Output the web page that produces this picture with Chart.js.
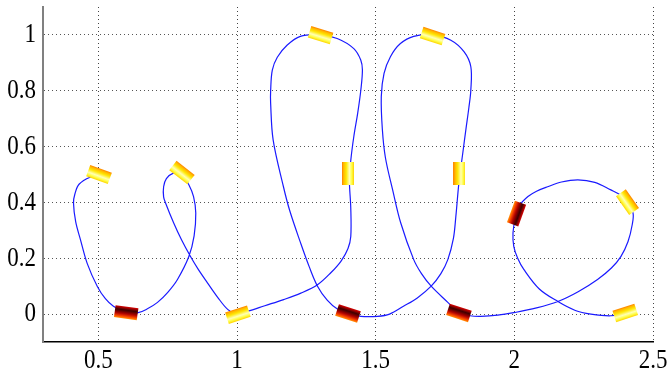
<!DOCTYPE html>
<html>
<head>
<meta charset="utf-8">
<script src="https://cdn.jsdelivr.net/npm/chart.js@4.4.1/dist/chart.umd.min.js"></script>
<style>
    body { margin: 0; background: #ffffff; }
</style>
</head>
<body>
<canvas id="myChart" width="671" height="377"></canvas>
<script>
// path of the trajectory
const pathX = [0.51, 0.47, 0.43, 0.415, 0.41, 0.418, 0.435, 0.46, 0.496, 0.525, 0.554, 0.60, 0.64, 0.675, 0.713, 0.75, 0.785, 0.826, 0.845, 0.851, 0.843, 0.826,
    0.80, 0.77, 0.745, 0.735, 0.735, 0.742, 0.771, 0.80, 0.832, 0.86, 0.893, 0.93, 0.966, 1.0, 1.038, 1.10, 1.168, 1.23, 1.29, 1.338, 1.375, 1.40, 1.41, 1.41,
    1.405, 1.41, 1.421, 1.435, 1.446, 1.452, 1.446, 1.421, 1.361, 1.30, 1.228, 1.18, 1.145, 1.127, 1.121, 1.121, 1.13, 1.167, 1.19,
    1.229, 1.26, 1.29, 1.325, 1.363, 1.40, 1.446, 1.507, 1.55, 1.60, 1.65, 1.70, 1.735, 1.76, 1.78, 1.789, 1.80, 1.814, 1.825, 1.836, 1.843, 1.843, 1.819,
    1.771, 1.705, 1.637, 1.589, 1.553, 1.53, 1.52, 1.524, 1.535, 1.561, 1.59, 1.637, 1.665, 1.70, 1.76, 1.80, 1.84, 1.879, 1.94, 1.998, 2.08,
    2.157, 2.23, 2.30, 2.35, 2.384, 2.41, 2.425, 2.428, 2.408, 2.38, 2.348, 2.29, 2.229, 2.17, 2.12, 2.08, 2.049, 2.02, 2.003, 1.995, 1.998, 2.012, 2.034,
    2.09, 2.157, 2.22, 2.276, 2.348, 2.40];
const pathY = [0.497, 0.49, 0.465, 0.43, 0.398, 0.33, 0.267, 0.18, 0.099, 0.055, 0.028, 0.006, 0.004, 0.018, 0.042, 0.078, 0.124, 0.206, 0.28, 0.362, 0.421, 0.463,
    0.505, 0.505, 0.485, 0.456, 0.42, 0.398, 0.327, 0.265, 0.206, 0.16, 0.112, 0.06, 0.017, 0.0, 0.01, 0.03, 0.052, 0.075, 0.105, 0.148, 0.19, 0.235, 0.278, 0.38,
    0.48, 0.55, 0.636, 0.72, 0.80, 0.874, 0.91, 0.951, 0.987, 1.0, 0.995, 0.963, 0.92, 0.874, 0.80, 0.755, 0.624, 0.457, 0.37,
    0.255, 0.17, 0.1, 0.05, 0.017, 0.003, -0.008, -0.008, 0.0, 0.028, 0.058, 0.1, 0.145, 0.195, 0.27, 0.35, 0.47, 0.577, 0.66, 0.74, 0.803, 0.886, 0.939,
    0.981, 0.999, 0.995, 0.969, 0.922, 0.862, 0.779, 0.66, 0.56, 0.445, 0.327, 0.195, 0.145, 0.1, 0.042, 0.004, -0.006, -0.008, -0.004, 0.005, 0.022,
    0.045, 0.08, 0.124, 0.165, 0.206, 0.26, 0.32, 0.362, 0.401, 0.428, 0.445, 0.472, 0.481, 0.473, 0.456, 0.44, 0.421, 0.39, 0.34, 0.29, 0.242, 0.2, 0.16,
    0.09, 0.045, 0.013, 0.0, -0.006, 0.004];

// cylinders along the path: position, heading (deg) and kind
const markerX = [0.502, 0.801, 0.60, 1.003, 1.40, 1.301, 1.40, 1.705, 1.802, 1.80, 2.008, 2.408, 2.40];
const markerY = [0.50, 0.507, 0.005, -0.002, 0.504, 0.999, 0.002, 0.996, 0.502, 0.004, 0.36, 0.401, 0.004];
const markerHeading = [20, 38, 8, -18, -90, 17, 18, 18, -90, 18, 110, 55, -18];
const markerKind = ['cool', 'cool', 'hot', 'cool', 'cool', 'cool', 'hot', 'cool', 'cool', 'hot', 'hot', 'cool', 'cool'];

const xTicks = [0.5, 1, 1.5, 2, 2.5];
const yTicks = [0, 0.2, 0.4, 0.6, 0.8, 1];

function makeCylinder(stops) {
    const c = document.createElement('canvas');
    c.width = 23;
    c.height = 12;
    const g = c.getContext('2d');
    const grad = g.createLinearGradient(0, 0, 0, c.height);
    stops.forEach(s => grad.addColorStop(s[0], s[1]));
    g.fillStyle = grad;
    g.fillRect(0, 0, c.width, c.height);
    return c;
}

const cylinders = {
    cool: makeCylinder([[0, '#ff7a00'], [0.12, '#ffb400'], [0.35, '#ffe800'], [0.62, '#ffffb8'], [0.82, '#ffff40'], [1, '#ffd000']]),
    hot: makeCylinder([[0, '#e00000'], [0.3, '#3a0000'], [0.6, '#b00000'], [0.85, '#ff4a00'], [1, '#ff9a00']])
};

const pathData = pathX.map((x, i) => ({ x: x, y: pathY[i] }));
const markerData = markerX.map((x, i) => ({ x: x, y: markerY[i] }));

// the old figure's labels are a bit taller than the font, so stretch them
function stretchText(ctx, text, x, y) {
    ctx.save();
    ctx.translate(x, y);
    ctx.scale(1, 1.2);
    ctx.fillText(text, 0, 0);
    ctx.restore();
}

const tickLabels = {
    id: 'tickLabels',
    afterDraw(chart) {
        const ctx = chart.ctx;
        const sx = chart.scales.x;
        const sy = chart.scales.y;
        ctx.save();
        ctx.fillStyle = '#000';
        ctx.font = '23px "Liberation Serif", "Times New Roman", serif';
        ctx.textBaseline = 'middle';
        ctx.textAlign = 'center';
        xTicks.forEach(v => stretchText(ctx, String(v), sx.getPixelForValue(v), sx.bottom - 16));
        ctx.textAlign = 'right';
        yTicks.forEach(v => stretchText(ctx, String(v), sy.right - 7, sy.getPixelForValue(v)));
        ctx.restore();
    }
};

const config = {
    type: 'scatter',
    data: {
        datasets: [{
            data: markerData,
            showLine: false,
            pointStyle: ctx => cylinders[markerKind[ctx.dataIndex]],
            pointRotation: ctx => markerHeading[ctx.dataIndex],
            pointRadius: 6
        }, {
            data: pathData,
            showLine: true,
            borderColor: '#1a1aff',
            borderWidth: 1.2,
            tension: 0.35,
            pointRadius: 0
        }]
    },
    options: {
        responsive: false,
        animation: false,
        devicePixelRatio: 1,
        layout: { padding: { top: 7, right: 18, left: 0, bottom: 0 } },
        plugins: {
            legend: { display: false },
            tooltip: { enabled: false }
        },
        scales: {
            x: {
                type: 'linear',
                min: 0.3,
                max: 2.5,
                afterBuildTicks: s => { s.ticks = xTicks.map(v => ({ value: v })); },
                afterFit: s => { s.height = 35; },
                ticks: { display: false },
                grid: { color: '#444', lineWidth: 1, drawTicks: false },
                border: { color: '#000', width: 1.5, dash: [1, 3] }
            },
            y: {
                type: 'linear',
                min: -0.1,
                max: 1.1,
                afterBuildTicks: s => { s.ticks = yTicks.map(v => ({ value: v })); },
                afterFit: s => { s.width = 43; },
                ticks: { display: false },
                grid: { color: '#555', lineWidth: 1, drawTicks: false },
                border: { color: '#808080', width: 2, dash: [1, 3] }
            }
        }
    },
    plugins: [tickLabels]
};

const myChart = new Chart(document.getElementById('myChart'), config);
</script>
</body>
</html>
